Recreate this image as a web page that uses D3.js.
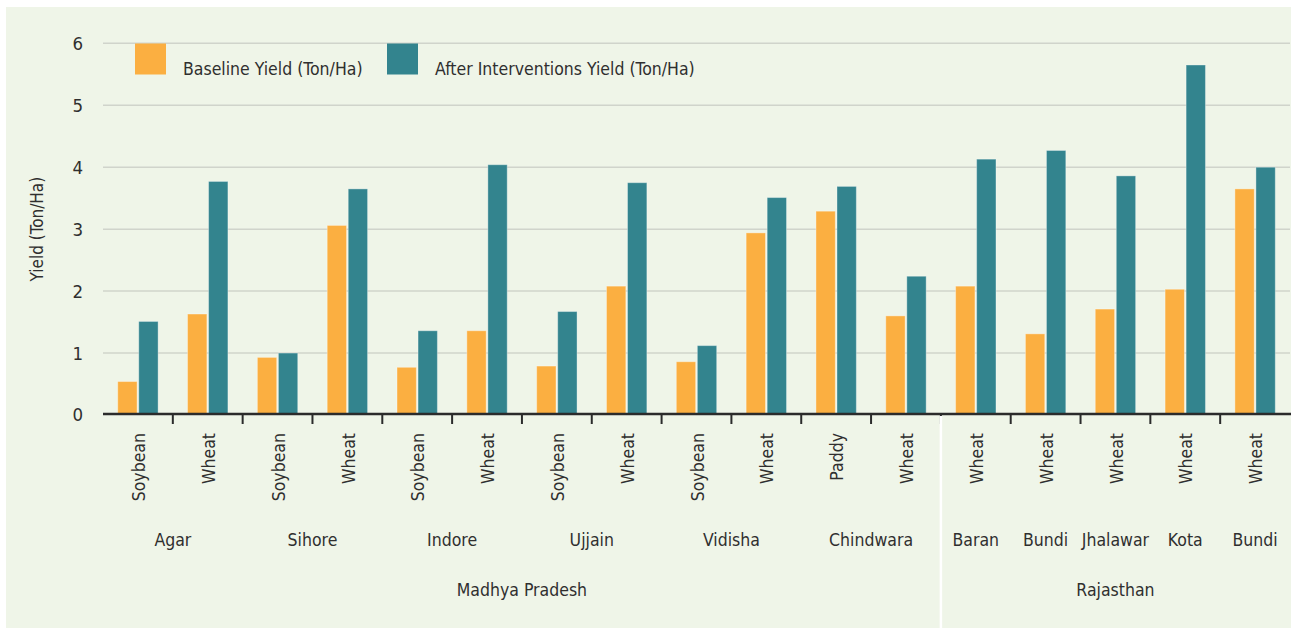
<!DOCTYPE html>
<html>
<head>
<meta charset="utf-8">
<script src="https://cdn.jsdelivr.net/npm/d3@7"></script>
<style>
  html, body { margin: 0; padding: 0; background: #fff; }
  svg text { font-family: "Liberation Sans Narrow", "DejaVu Sans Condensed", "Open Sans", sans-serif; fill: #2f2f2f; }
</style>
</head>
<body>
<div id="chart"></div>
<script>
// ==== Dữ liệu ====
const states = ["Madhya Pradesh", "Rajasthan"];
const stateOf = ["Madhya Pradesh","Madhya Pradesh","Madhya Pradesh","Madhya Pradesh","Madhya Pradesh","Madhya Pradesh",
  "Madhya Pradesh","Madhya Pradesh","Madhya Pradesh","Madhya Pradesh","Madhya Pradesh","Madhya Pradesh",
  "Rajasthan","Rajasthan","Rajasthan","Rajasthan","Rajasthan"];
const districts = ["Agar","Agar","Sihore","Sihore","Indore","Indore","Ujjain","Ujjain","Vidisha","Vidisha",
  "Chindwara","Chindwara","Baran","Bundi","Jhalawar","Kota","Bundi"];
// nhóm huyện liên tiếp (Bundi xuất hiện 2 lần nên dùng id nhóm)
const districtGroup = [0,0,1,1,2,2,3,3,4,4,5,5,6,7,8,9,10];
const crops = ["Soybean","Wheat","Soybean","Wheat","Soybean","Wheat","Soybean","Wheat","Soybean","Wheat",
  "Paddy","Wheat","Wheat","Wheat","Wheat","Wheat","Wheat"];
const baseline = [0.54,1.63,0.93,3.06,0.77,1.36,0.79,2.08,0.86,2.94,3.29,1.60,2.08,1.31,1.71,2.03,3.65];
const after    = [1.51,3.77,1.00,3.65,1.36,4.04,1.67,3.75,1.12,3.51,3.69,2.24,4.13,4.27,3.86,5.65,4.00];
const yTicks = [0,1,2,3,4,5,6];
const seriesNames = ["Baseline Yield (Ton/Ha)", "After Interventions Yield (Ton/Ha)"];
const seriesColors = ["#fbaf41", "#33848e"];

(function () {
  const W = 1291, H = 628;
  const plotL = 103, plotR = 1290, plotT = 43.3, plotB = 415;
  const fs = "17.5px";

  const svg = d3.select("#chart").append("svg")
    .attr("width", W).attr("height", H);

  // nền
  svg.append("rect")
    .attr("x", 6).attr("y", 7).attr("width", W - 6).attr("height", H - 7)
    .attr("fill", "#eff5e8");

  const idx = d3.range(crops.length);

  const x = d3.scaleBand().domain(idx).range([plotL, plotR]).padding(0);
  const x1 = d3.scaleBand().domain([0, 1]).range([0, x.bandwidth()])
    .paddingInner(0.08).paddingOuter(0.7);
  const y = d3.scaleLinear().domain([0, 6]).range([plotB, plotT]);

  // lưới
  svg.append("g")
    .selectAll("line")
    .data(yTicks.filter(d => d > 0))
    .join("line")
      .attr("x1", plotL).attr("x2", plotR)
      .attr("y1", d => y(d)).attr("y2", d => y(d))
      .attr("stroke", "#d0d4cb").attr("stroke-width", 1.5);

  // trục Y
  svg.append("g")
    .selectAll("text")
    .data(yTicks)
    .join("text")
      .attr("x", 83).attr("y", d => y(d))
      .attr("dy", "0.35em")
      .attr("text-anchor", "end")
      .style("font-size", "18.5px")
      .text(d => d);

  svg.append("text")
    .attr("transform", `translate(37,${(plotT + plotB) / 2}) rotate(-90)`)
    .attr("text-anchor", "middle")
    .attr("dy", "0.35em")
    .style("font-size", "17px")
    .text("Yield (Ton/Ha)");

  // cột
  const groups = svg.append("g")
    .selectAll("g")
    .data(idx)
    .join("g")
      .attr("transform", i => `translate(${x(i)},0)`);

  groups.selectAll("rect")
    .data(i => [baseline[i], after[i]].map((v, s) => ({ v, s })))
    .join("rect")
      .attr("x", d => x1(d.s))
      .attr("y", d => y(d.v))
      .attr("width", x1.bandwidth())
      .attr("height", d => y(0) - y(d.v))
      .attr("fill", d => seriesColors[d.s])
      .attr("stroke", "#fff").attr("stroke-opacity", 0.35).attr("stroke-width", 1);

  // trục X
  svg.append("line")
    .attr("x1", plotL).attr("x2", W)
    .attr("y1", 414).attr("y2", 414)
    .attr("stroke", "#2b2b2b").attr("stroke-width", 2.4);

  svg.append("g")
    .selectAll("line")
    .data(idx.slice(1))
    .join("line")
      .attr("x1", i => x(i)).attr("x2", i => x(i))
      .attr("y1", 414).attr("y2", 424)
      .attr("stroke", "#2b2b2b").attr("stroke-width", 2);

  // nhãn cây trồng
  svg.append("g")
    .selectAll("text")
    .data(idx)
    .join("text")
      .attr("transform", i => `translate(${x(i) + x.bandwidth() / 2 + 1},433) rotate(-90)`)
      .attr("dy", "0.35em")
      .attr("text-anchor", "end")
      .style("font-size", fs)
      .text(i => crops[i]);

  // nhãn huyện
  const dGroups = d3.groups(idx, i => districtGroup[i]);
  svg.append("g")
    .selectAll("text")
    .data(dGroups)
    .join("text")
      .attr("x", ([, ids]) => (x(ids[0]) + x(ids[ids.length - 1]) + x.bandwidth()) / 2)
      .attr("y", 540)
      .attr("dy", "0.35em")
      .attr("text-anchor", "middle")
      .style("font-size", fs)
      .text(([, ids]) => districts[ids[0]]);

  // nhãn bang
  svg.append("g")
    .selectAll("text")
    .data(states)
    .join("text")
      .attr("x", s => {
        const ids = idx.filter(i => stateOf[i] === s);
        return (x(ids[0]) + x(ids[ids.length - 1]) + x.bandwidth()) / 2;
      })
      .attr("y", 590)
      .attr("dy", "0.35em")
      .attr("text-anchor", "middle")
      .style("font-size", fs)
      .text(s => s);

  // vạch trắng phân cách hai bang
  const firstRaj = stateOf.indexOf("Rajasthan");
  svg.append("line")
    .attr("x1", x(firstRaj)).attr("x2", x(firstRaj))
    .attr("y1", 416).attr("y2", H)
    .attr("stroke", "#fff").attr("stroke-width", 2.5);

  // chú thích
  const legendX = [135, 387];
  const legend = svg.append("g")
    .selectAll("g")
    .data(seriesNames)
    .join("g")
      .attr("transform", (d, i) => `translate(${legendX[i]},43.5)`);

  legend.append("rect")
    .attr("width", 31).attr("height", 31)
    .attr("fill", (d, i) => seriesColors[i]);

  legend.append("text")
    .attr("x", 48).attr("y", 25)
    .attr("dy", "0.35em")
    .style("font-size", fs)
    .text(d => d);
})();
</script>
</body>
</html>
